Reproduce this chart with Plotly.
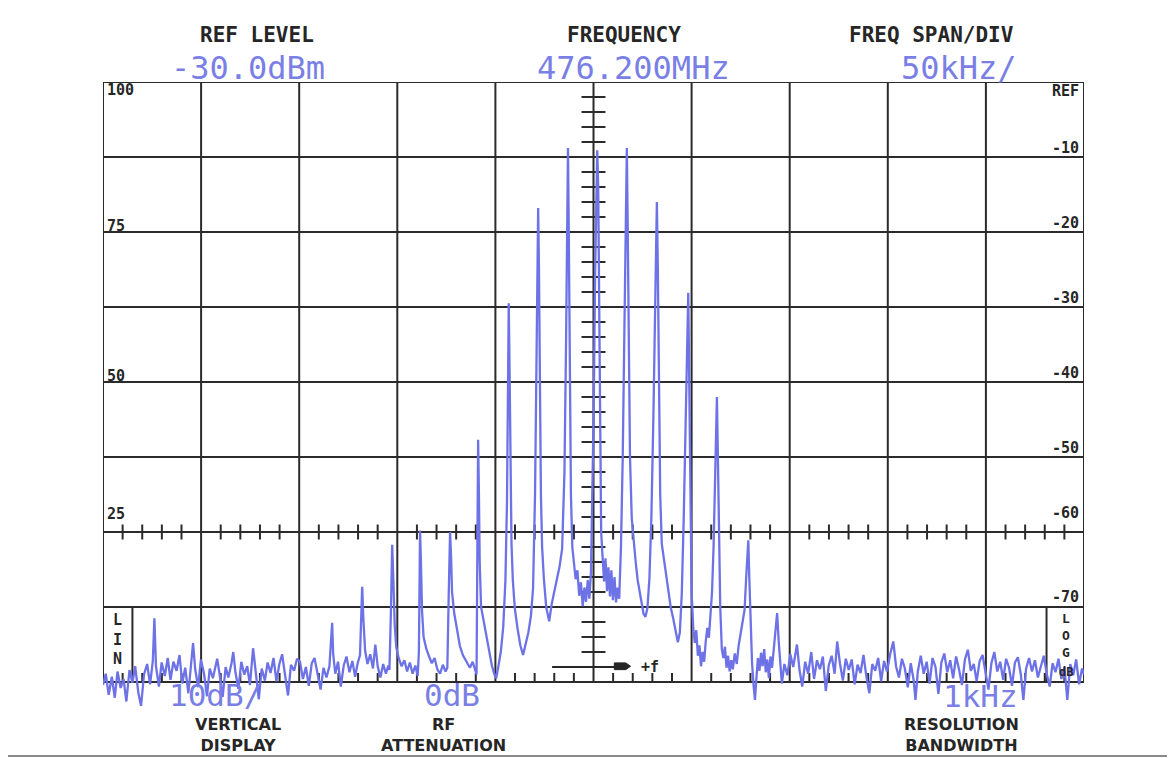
import plotly.graph_objects as go

REF_LEVEL_TEXT = "-30.0dBm"
CENTER_FREQ_TEXT = "476.200MHz"
SPAN_TEXT = "50kHz/"
VERT_TEXT = "10dB/"
ATTEN_TEXT = "0dB"
RBW_TEXT = "1kHz"

# frequency offset from centre (kHz) and level relative to reference (dB)
LEFT_NOISE = [
    (-250.0, -80.4), (-248.6, -78.9), (-247.1, -81.7), (-245.5, -79.3), (-244.0, -82.1),
    (-242.6, -78.6), (-241.0, -80.8), (-239.5, -79.6), (-238.1, -82.6), (-236.5, -78.4),
    (-235.0, -80.1), (-233.6, -77.9), (-232.0, -81.4), (-230.6, -83.2), (-229.1, -79.0),
    (-227.5, -77.6), (-226.0, -80.3), (-224.6, -77.2), (-223.8, -71.5), (-223.0, -77.9),
    (-221.5, -80.6), (-220.1, -77.4), (-218.5, -79.2), (-217.0, -76.8), (-215.6, -79.7),
    (-214.1, -77.3), (-212.5, -78.5), (-211.0, -76.4), (-209.6, -80.2), (-208.1, -78.1),
    (-206.5, -81.5), (-205.0, -77.6), (-204.1, -74.8), (-203.0, -78.3), (-201.5, -80.7),
    (-200.1, -77.0), (-198.5, -78.9), (-197.0, -81.9), (-195.6, -78.2), (-194.0, -79.5),
    (-192.6, -77.8), (-191.8, -76.9), (-190.5, -79.1), (-189.0, -82.0), (-187.5, -78.0),
    (-186.1, -79.4), (-184.5, -77.5), (-183.6, -76.0), (-182.5, -78.7), (-181.0, -80.9),
    (-179.5, -77.3), (-178.0, -79.0), (-176.5, -77.9), (-175.1, -80.4), (-173.5, -75.5),
    (-172.2, -78.6), (-170.6, -82.3), (-169.1, -78.2), (-167.5, -79.8), (-166.1, -77.4),
    (-164.6, -78.8), (-163.1, -76.8), (-161.6, -79.9), (-160.1, -77.6), (-158.7, -76.3),
    (-157.3, -78.9), (-155.7, -81.8), (-154.2, -77.7), (-152.6, -78.5), (-151.1, -76.9),
    (-149.6, -77.3), (-148.1, -79.6), (-146.6, -78.0), (-145.1, -80.5), (-143.6, -77.5),
    (-142.2, -76.8), (-140.6, -79.2), (-139.1, -81.0), (-137.6, -78.1), (-136.1, -79.4),
]

SIDEBANDS = [
    (-134.6, -77.9), (-133.7, -74.6), (-133.2, -72.1), (-132.7, -76.2), (-131.6, -78.9),
    (-130.2, -77.3), (-128.8, -80.6), (-127.3, -77.8), (-125.9, -76.6), (-124.4, -78.7),
    (-122.9, -77.2), (-121.5, -79.3), (-120.2, -77.5), (-119.0, -76.4), (-118.4, -71.8),
    (-117.9, -67.3), (-117.3, -71.6), (-116.4, -75.8), (-115.2, -77.6), (-113.8, -76.3),
    (-112.4, -78.2), (-111.2, -75.0), (-110.0, -77.9), (-108.6, -79.4), (-107.2, -77.6),
    (-105.8, -78.9), (-104.6, -77.8), (-104.0, -78.4), (-103.2, -70.0), (-102.6, -61.7),
    (-102.0, -66.5), (-101.3, -72.5), (-100.5, -75.4), (-99.3, -76.8), (-97.8, -77.9),
    (-96.4, -77.1), (-95.0, -78.6), (-93.6, -77.4), (-92.2, -78.9), (-90.8, -77.8),
    (-89.6, -79.2), (-89.0, -76.0), (-88.7, -68.0), (-88.4, -59.8), (-88.0, -63.5),
    (-87.4, -70.5), (-86.6, -74.0), (-85.2, -75.6), (-83.8, -76.6), (-82.4, -77.5),
    (-81.0, -76.8), (-79.6, -78.3), (-78.2, -78.9), (-76.8, -77.7), (-75.4, -78.6),
    (-74.5, -78.1), (-73.8, -68.5), (-73.1, -60.0), (-72.6, -63.2), (-72.1, -68.0),
    (-71.0, -70.8), (-69.6, -72.9), (-68.1, -75.2), (-66.6, -76.4), (-64.8, -77.2),
    (-63.0, -78.1), (-61.6, -77.3), (-60.3, -78.6), (-59.6, -79.0), (-59.2, -62.5),
    (-58.8, -47.7), (-58.4, -55.0), (-58.0, -64.0), (-57.3, -70.0), (-56.1, -71.8),
    (-54.7, -73.6), (-53.2, -75.6), (-51.8, -77.8), (-50.6, -78.9), (-49.6, -79.5),
    (-48.4, -77.8), (-47.2, -75.9), (-46.0, -72.6), (-44.9, -66.5), (-44.1, -56.0),
    (-43.6, -41.0), (-43.2, -29.5), (-42.8, -38.0), (-42.3, -52.0), (-41.8, -61.5),
    (-41.1, -66.5), (-40.1, -70.2), (-38.7, -72.9), (-37.3, -75.1), (-35.9, -76.4),
    (-34.6, -75.0), (-33.2, -73.4), (-31.9, -71.2), (-30.8, -67.5), (-29.8, -55.0),
    (-29.1, -40.0), (-28.6, -25.0), (-28.2, -16.8), (-27.8, -25.0), (-27.3, -42.0),
    (-26.8, -55.0), (-26.2, -62.0), (-25.3, -66.2), (-24.1, -70.0), (-22.6, -71.9),
    (-21.3, -69.6), (-20.0, -68.1), (-18.7, -66.3), (-17.3, -64.6), (-16.0, -62.3),
    (-14.8, -52.0), (-14.0, -35.0), (-13.4, -18.0), (-13.0, -8.8), (-12.6, -20.0),
    (-12.1, -40.0), (-11.5, -55.0), (-10.8, -62.0), (-10.0, -64.2), (-9.1, -66.3),
    (-8.2, -65.1), (-7.3, -68.5), (-6.4, -66.7), (-5.5, -69.9), (-4.6, -67.4),
    (-3.8, -69.3), (-2.9, -66.4), (-2.1, -68.9), (-1.3, -65.4), (-0.6, -57.0),
    (0.1, -44.0), (0.8, -26.0), (1.4, -12.5), (1.9, -9.1), (2.4, -14.0),
    (2.9, -31.0), (3.4, -50.0), (3.9, -60.0), (4.6, -63.2), (5.4, -66.6),
    (6.1, -63.5), (6.9, -67.9), (7.6, -64.7), (8.4, -68.6), (9.1, -65.1),
    (9.9, -69.1), (10.7, -66.0), (11.5, -69.4), (12.3, -67.4), (13.1, -68.9),
    (14.0, -62.0), (14.9, -50.0), (15.7, -34.0), (16.4, -18.0), (17.0, -8.8),
    (17.4, -18.5), (18.0, -35.0), (18.6, -50.0), (19.5, -58.2), (20.5, -61.4),
    (21.5, -64.0), (22.5, -66.4), (23.5, -68.1), (24.5, -69.7), (25.5, -70.9),
    (26.5, -71.3), (27.5, -70.1), (28.5, -66.2), (29.5, -58.0), (30.5, -45.0),
    (31.3, -30.0), (32.3, -16.0), (32.8, -25.0), (33.4, -42.0), (34.0, -55.0),
    (34.8, -61.6), (35.8, -63.4), (37.0, -65.6), (38.2, -68.0), (39.4, -70.1),
    (40.6, -71.5), (41.8, -73.3), (43.0, -74.7), (44.0, -73.4), (45.0, -68.2),
    (46.0, -58.0), (47.0, -45.0), (47.7, -35.0), (48.3, -28.1), (48.8, -40.0),
    (49.4, -58.0), (50.0, -68.0), (50.8, -72.6), (51.6, -74.8), (52.4, -73.1),
    (53.2, -76.5), (54.0, -75.1), (54.8, -77.9), (55.6, -76.0), (56.4, -77.3),
    (57.2, -74.6), (58.0, -72.8), (58.8, -74.1), (59.6, -71.2), (60.4, -68.1),
    (61.2, -62.0), (61.9, -52.0), (62.9, -42.0), (63.4, -50.0), (64.0, -62.0),
    (64.6, -70.0), (65.4, -75.6), (66.2, -76.8), (67.0, -75.3), (67.8, -78.1),
    (68.6, -76.5), (69.4, -78.6), (70.2, -77.1), (71.0, -78.3), (72.0, -76.2),
    (73.0, -77.6), (74.0, -75.1), (75.0, -73.5), (76.0, -72.1), (77.0, -70.4),
    (77.8, -66.2), (78.4, -64.0), (78.9, -61.1), (79.4, -66.0), (80.0, -72.0),
    (80.8, -77.4), (81.6, -80.5), (82.3, -82.4), (83.0, -79.6), (83.8, -76.8),
    (84.6, -78.5), (85.4, -76.1), (86.2, -77.9), (87.0, -75.6), (87.8, -78.7),
    (88.6, -77.0), (89.4, -79.5), (90.2, -76.6), (91.0, -78.1), (91.8, -75.8),
    (92.6, -73.1), (93.6, -70.8), (94.4, -74.6), (95.2, -78.0), (96.0, -80.2),
]

RIGHT_NOISE = [
    (97.3, -77.6), (98.8, -79.1), (100.3, -76.3), (101.8, -78.0), (103.7, -75.0),
    (105.0, -78.4), (106.4, -80.6), (107.9, -77.3), (109.4, -78.9), (111.0, -76.0),
    (112.4, -79.6), (113.9, -77.1), (115.4, -78.3), (116.9, -76.6), (118.4, -81.2),
    (119.9, -77.8), (121.4, -76.5), (122.9, -78.9), (124.2, -74.6), (125.6, -77.5),
    (127.1, -79.8), (128.6, -76.9), (130.1, -78.4), (131.6, -77.0), (133.1, -80.3),
    (134.6, -77.7), (136.1, -78.8), (137.6, -76.4), (139.1, -79.3), (140.6, -81.5),
    (142.1, -77.6), (143.6, -78.5), (145.1, -76.8), (146.6, -79.9), (148.1, -77.2),
    (149.6, -78.6), (151.2, -76.3), (152.8, -74.6), (154.2, -77.9), (155.7, -79.4),
    (157.2, -76.9), (158.7, -78.2), (160.2, -80.7), (161.7, -77.5), (163.2, -79.8),
    (164.1, -82.4), (165.3, -78.6), (166.8, -76.5), (168.3, -78.9), (169.8, -77.3),
    (171.3, -80.2), (172.8, -76.8), (174.3, -78.0), (175.8, -81.6), (177.3, -77.4),
    (178.8, -76.2), (180.3, -78.7), (181.8, -77.1), (183.3, -79.5), (184.8, -76.6),
    (186.3, -78.3), (187.8, -80.4), (189.3, -77.0), (190.8, -75.7), (192.3, -78.5),
    (193.8, -77.6), (195.3, -79.9), (196.8, -77.2), (198.3, -76.4), (199.8, -78.8),
    (201.3, -81.0), (202.8, -77.5), (204.3, -76.0), (205.8, -78.6), (207.3, -77.3),
    (208.8, -79.7), (210.3, -76.9), (211.8, -78.1), (213.3, -80.5), (214.8, -77.4),
    (216.3, -76.7), (217.8, -79.0), (219.1, -82.4), (220.5, -78.2), (222.0, -76.8),
    (223.5, -78.6), (225.0, -77.1), (226.5, -79.4), (228.0, -77.8), (229.5, -76.5),
    (231.0, -78.9), (232.5, -80.6), (234.0, -77.5), (235.5, -78.7), (237.0, -76.9),
    (238.5, -79.6), (240.0, -78.0), (241.5, -82.4), (243.0, -77.6), (244.5, -79.1),
    (246.0, -77.0), (247.5, -80.3), (249.0, -78.2), (250.0, -79.0),
]

X_GRID_KHZ = [-250, -200, -150, -100, -50, 0, 50, 100, 150, 200, 250]
Y_GRID_DB = [0, -10, -20, -30, -40, -50, -60, -70, -80]
RIGHT_LABELS = ["REF", "-10", "-20", "-30", "-40", "-50", "-60", "-70"]
RIGHT_LABEL_DB = [0, -10, -20, -30, -40, -50, -60, -70]
LEFT_LABELS = ["100", "75", "50", "25"]
LEFT_LABEL_DB = [0, -20, -40, -60]

# ---------------- styling / geometry ----------------
WIN_W, WIN_H = 1175, 758
OFF = 8                        # page body margin: the figure starts 8 px in
W, H = WIN_W - OFF, WIN_H - OFF
PX0, PX1 = 103, 1084           # graticule left/right in window pixels
PY_TOP = 82                    # graticule top (0 dB) in window pixels
PX_PER_DB = 7.5
Y_MIN = -86                    # a little below the graticule: the trace dips under it
TRACE = "#6d72e6"
BLUE_TXT = "#7a7fe6"
GRID = "#2b2b2b"
INK = "#262626"
MONO = "DejaVu Sans Mono"
SANS = "DejaVu Sans"


def pxx(x):
    return (x - OFF) / W


def pxy(y):
    return 1 - (y - OFF) / H


freq = [p[0] for p in LEFT_NOISE + SIDEBANDS + RIGHT_NOISE]
level = [p[1] for p in LEFT_NOISE + SIDEBANDS + RIGHT_NOISE]

fig = go.Figure()
fig.add_trace(go.Scatter(x=freq, y=level, mode="lines",
                         line=dict(color=TRACE, width=2.3), hoverinfo="skip"))

ybot_px = PY_TOP + (-Y_MIN) * PX_PER_DB


def line(x0, y0, x1, y1, w=2, color=GRID):
    return dict(type="line", xref="x", yref="y", x0=x0, y0=y0, x1=x1, y1=y1,
                line=dict(color=color, width=w), layer="below")


shapes = []
for f in X_GRID_KHZ:
    shapes.append(line(f, -80, f, 0))
for d in Y_GRID_DB:
    shapes.append(line(-250, d, 250, d))
# minor ticks on the centre vertical line
for d in range(-2, -80, -2):
    if d % 10:
        shapes.append(line(-6.1, d, 6.1, d, w=2))
# minor ticks on the -60 dB line and the bottom line
for f in range(-240, 250, 10):
    if f % 50:
        shapes.append(line(f, -61.0, f, -59.0, w=2))
        shapes.append(line(f, -80, f, -78.8, w=2))
# LIN / LOG boxes
shapes.append(line(-235.0, -80, -235.0, -70))
shapes.append(line(230.9, -80, 230.9, -70))
# +f arrow
shapes.append(line(-21.1, -78.0, 11.0, -78.0, w=2, color=INK))
shapes.append(dict(type="path", xref="x", yref="y",
                   path="M 10.6,-77.45 L 16.4,-77.45 L 18.9,-77.9 L 16.4,-78.35 L 10.6,-78.35 Z",
                   fillcolor=INK, line=dict(color=INK, width=1), layer="below"))
# bottom edge of the photo frame
shapes.append(dict(type="line", xref="paper", yref="paper",
                   x0=0, x1=1, y0=pxy(756), y1=pxy(756),
                   line=dict(color="#8a8a8a", width=2), layer="below"))


def txt(text, x, y, size, color, bold=False, xanchor="center", yanchor="middle",
        family=MONO):
    return dict(text=f"<b>{text}</b>" if bold else text, x=pxx(x), y=pxy(y),
                xref="paper", yref="paper", showarrow=False,
                font=dict(family=family, size=size, color=color),
                xanchor=xanchor, yanchor=yanchor)


ann = [
    txt("REF LEVEL", 257, 35, 21, INK, True),
    txt("FREQUENCY", 624, 35, 21, INK, True),
    txt("FREQ SPAN/DIV", 931, 35, 21, INK, True),
    txt(REF_LEVEL_TEXT, 248, 68, 32, BLUE_TXT),
    txt(CENTER_FREQ_TEXT, 633, 68, 32, BLUE_TXT),
    txt(SPAN_TEXT, 959, 68, 32, BLUE_TXT),
    txt(VERT_TEXT, 215, 695, 31, BLUE_TXT),
    txt(ATTEN_TEXT, 452, 695, 31, BLUE_TXT),
    txt(RBW_TEXT, 981, 696, 31, BLUE_TXT),
    txt("VERTICAL<br>DISPLAY", 238, 735, 16, INK, True, family=SANS),
    txt("RF<br>ATTENUATION", 443, 735, 16, INK, True, family=SANS),
    txt("RESOLUTION<br>BANDWIDTH", 961, 735, 16, INK, True, family=SANS),
    txt("+f", 650, 667, 15, INK, True),
    txt("L<br>I<br>N", 117, 639, 15, INK, True),
    txt("L<br>O<br>G", 1066, 635, 13, INK, True),
    txt("dB", 1066, 672, 12, INK, True),
]
right_offsets = [9, -9, -9, -9, -9, -9, -19, -10]
for lab, d, off in zip(RIGHT_LABELS, RIGHT_LABEL_DB, right_offsets):
    ann.append(txt(lab, 1081, PY_TOP - d * PX_PER_DB + off, 15, INK, True, xanchor="right"))
left_offsets = [8, -6, -6, -18]
for lab, d, off in zip(LEFT_LABELS, LEFT_LABEL_DB, left_offsets):
    ann.append(txt(lab, 105, PY_TOP - d * PX_PER_DB + off, 15, INK, True, xanchor="left"))

fig.update_layout(
    width=W, height=H,
    margin=dict(l=0, r=0, t=0, b=0),
    paper_bgcolor="white", plot_bgcolor="white",
    showlegend=False,
    xaxis=dict(range=[-250, 250], domain=[pxx(PX0), pxx(PX1)], visible=False, fixedrange=True),
    yaxis=dict(range=[Y_MIN, 0], domain=[pxy(ybot_px), pxy(PY_TOP)],
               visible=False, fixedrange=True),
    shapes=shapes,
    annotations=ann,
)

fig.write_html("out.html")
